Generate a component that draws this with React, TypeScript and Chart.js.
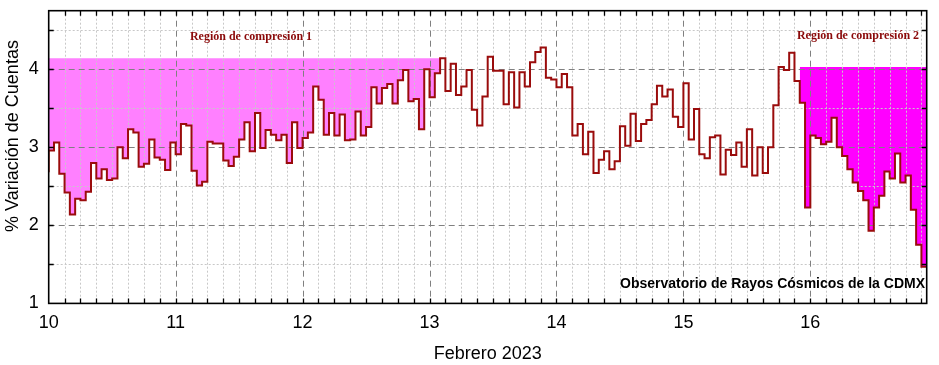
import React, { useEffect, useRef } from 'react';
import { Chart, registerables } from 'chart.js';

Chart.register(...registerables);

// ---- Data (hourly values, % variation of counts) ----
const START_DAY = 10;
const STEPS_PER_DAY = 24;

const day10Values = [2.68, 2.96, 3.06, 2.66, 2.42, 2.14, 2.34, 2.32, 2.43, 2.80, 2.60, 2.72, 2.58, 2.60, 3.00, 2.86, 3.23, 3.19, 2.75, 2.79, 3.10, 2.87, 2.84, 2.71];
const day11Values = [3.06, 2.91, 3.30, 3.28, 2.70, 2.51, 2.56, 3.07, 3.05, 3.05, 2.83, 2.76, 2.88, 3.10, 3.32, 2.95, 3.44, 2.99, 3.22, 3.16, 3.09, 3.16, 2.80, 3.32];
const day12Values = [2.99, 3.12, 3.19, 3.78, 3.61, 3.16, 3.44, 3.15, 3.42, 3.09, 3.10, 3.46, 3.15, 3.26, 3.77, 3.56, 3.76, 3.81, 3.56, 3.86, 3.99, 3.59, 3.62, 3.23];
const day13Values = [4.00, 3.64, 3.95, 4.14, 3.72, 4.07, 3.67, 3.78, 3.99, 3.48, 3.28, 3.65, 4.16, 3.98, 3.98, 3.55, 3.96, 3.51, 3.96, 3.78, 4.09, 4.22, 4.28, 3.89];
const day14Values = [3.87, 3.77, 3.94, 3.77, 3.15, 3.30, 2.91, 3.20, 2.67, 2.84, 2.95, 2.72, 2.82, 3.27, 3.02, 3.43, 3.08, 3.30, 3.35, 3.55, 3.79, 3.65, 3.74, 3.39];
const day15Values = [3.26, 3.82, 3.10, 3.49, 2.91, 2.86, 3.13, 3.15, 2.65, 2.97, 2.90, 3.06, 2.75, 3.23, 2.64, 3.00, 2.67, 3.00, 3.54, 4.03, 3.99, 4.21, 3.85, 3.57];
const day16Values = [2.23, 3.15, 3.12, 3.04, 3.07, 3.38, 3.00, 2.89, 2.72, 2.55, 2.44, 2.32, 1.93, 2.23, 2.38, 2.69, 2.60, 2.92, 2.55, 2.64, 2.20, 1.75, 1.47];

const allValues = [
  ...day10Values, ...day11Values, ...day12Values, ...day13Values,
  ...day14Values, ...day15Values, ...day16Values,
];

// Compression regions: [first hourly step, last hourly step], fill level
const region1Steps = [0, 75];
const region1Level = 4.14;
const region1Label = 'Región de compresión 1';
const region2Steps = [142, 166];
const region2Level = 4.03;
const region2Label = 'Región de compresión 2';

// Axes
const xTickValues = [10, 11, 12, 13, 14, 15, 16];
const yTickValues = [1, 2, 3, 4];
const X_MIN = 10;
const X_MAX = 10 + 166 / 24;
const Y_MIN = 1;
const Y_MAX = 4.75;
const xTitle = 'Febrero 2023';
const yTitle = '% Variación de Cuentas';
const creditText = 'Observatorio de Rayos Cósmicos de la CDMX';

const toPoints = (from: number, to: number) =>
  allValues.slice(from, to + 1).map((v, i) => ({ x: START_DAY + (from + i) / STEPS_PER_DAY, y: v }));

const SANS = '"Liberation Sans", Arial, sans-serif';

const gridPlugin = {
  id: 'customGrid',
  beforeDatasetsDraw(chart: any) {
    const { ctx, chartArea: a, scales } = chart;
    const xs = scales.x, ys = scales.y;
    ctx.save();
    ctx.lineWidth = 1;
    // minor dotted
    ctx.strokeStyle = '#c8c8c8';
    ctx.setLineDash([2, 2]);
    ctx.beginPath();
    for (let k = 1; k < 8 * 7; k++) {
      if (k % 8 === 0) continue;
      const v = X_MIN + k / 8;
      if (v >= X_MAX) break;
      const px = Math.round(xs.getPixelForValue(v)) + 0.5;
      ctx.moveTo(px, a.top); ctx.lineTo(px, a.bottom);
    }
    for (let v = 1.5; v < Y_MAX; v += 1) {
      const py = Math.round(ys.getPixelForValue(v)) + 0.5;
      ctx.moveTo(a.left, py); ctx.lineTo(a.right, py);
    }
    ctx.stroke();
    // major dashed
    ctx.strokeStyle = '#808080';
    ctx.setLineDash([6, 4]);
    ctx.beginPath();
    for (const v of xTickValues) {
      if (v === X_MIN) continue;
      const px = Math.round(xs.getPixelForValue(v)) + 0.5;
      ctx.moveTo(px, a.top); ctx.lineTo(px, a.bottom);
    }
    for (const v of yTickValues) {
      if (v === Y_MIN) continue;
      const py = Math.round(ys.getPixelForValue(v)) + 0.5;
      ctx.moveTo(a.left, py); ctx.lineTo(a.right, py);
    }
    ctx.stroke();
    ctx.restore();
  },
  afterDatasetsDraw(chart: any) {
    const { ctx, chartArea: a, scales } = chart;
    const xs = scales.x, ys = scales.y;
    ctx.save();
    ctx.setLineDash([]);
    ctx.strokeStyle = '#000';
    ctx.lineWidth = 1.3;
    ctx.beginPath();
    for (let k = 1; k < 8 * 7; k++) {
      const v = X_MIN + k / 8;
      if (v >= X_MAX) break;
      const px = Math.round(xs.getPixelForValue(v)) + 0.5;
      ctx.moveTo(px, a.bottom); ctx.lineTo(px, a.bottom - 5);
      ctx.moveTo(px, a.top); ctx.lineTo(px, a.top + 5);
    }
    for (let v = 1.5; v < Y_MAX; v += 0.5) {
      const py = Math.round(ys.getPixelForValue(v)) + 0.5;
      ctx.moveTo(a.left, py); ctx.lineTo(a.left + 5, py);
      ctx.moveTo(a.right, py); ctx.lineTo(a.right - 5, py);
    }
    ctx.stroke();
    // frame
    ctx.lineWidth = 1.6;
    ctx.strokeRect(a.left, a.top, a.right - a.left, a.bottom - a.top);

    // annotations
    ctx.fillStyle = '#8b0a0a';
    ctx.font = 'bold 12px "Liberation Serif", "Times New Roman", serif';
    ctx.textAlign = 'center';
    ctx.textBaseline = 'middle';
    ctx.fillText(region1Label, 251, 37);
    ctx.fillText(region2Label, 858, 36);

    ctx.fillStyle = '#000';
    ctx.font = 'bold 14px ' + SANS;
    ctx.textAlign = 'right';
    ctx.fillText(creditText, 925, 284);

    // y title
    ctx.font = '18px ' + SANS;
    ctx.textAlign = 'center';
    ctx.translate(13, 136);
    ctx.rotate(-Math.PI / 2);
    ctx.fillText(yTitle, 0, 0);
    ctx.restore();
  },
};

export default function App() {
  const canvasRef = useRef<HTMLCanvasElement | null>(null);

  useEffect(() => {
    document.body.style.margin = '0';
    const canvas = canvasRef.current;
    if (!canvas) return;
    const chart = new Chart(canvas, {
      type: 'line',
      data: {
        datasets: [
          {
            label: 'main',
            data: toPoints(0, allValues.length - 1),
            stepped: 'after',
            borderColor: '#9a0c0c',
            borderWidth: 2,
            pointRadius: 0,
            fill: false,
            order: 0,
          },
          {
            label: 'region1',
            data: toPoints(region1Steps[0], region1Steps[1]),
            stepped: 'after',
            borderColor: 'rgba(0,0,0,0)',
            borderWidth: 1,
            pointRadius: 0,
            backgroundColor: '#ff80ff',
            fill: { target: { value: region1Level }, above: '#ff80ff', below: '#ff80ff' },
            order: 1,
          },
          {
            label: 'region2',
            data: toPoints(region2Steps[0], region2Steps[1]),
            stepped: 'after',
            borderColor: 'rgba(0,0,0,0)',
            borderWidth: 1,
            pointRadius: 0,
            backgroundColor: '#ff00ff',
            fill: { target: { value: region2Level }, above: '#ff00ff', below: '#ff00ff' },
            order: 2,
          },
        ],
      } as any,
      options: {
        responsive: false,
        animation: false,
        events: [],
        layout: { padding: { top: 10.7, right: 12.3, left: 0, bottom: 0 } },
        plugins: {
          legend: { display: false },
          tooltip: { enabled: false },
          filler: { drawTime: 'beforeDraw' },
        },
        scales: {
          x: {
            type: 'linear',
            min: X_MIN,
            max: X_MAX,
            grid: { display: false, drawTicks: false },
            border: { display: false },
            afterBuildTicks: (s: any) => { s.ticks = xTickValues.map((v) => ({ value: v })); },
            afterFit: (s: any) => { s.height = 61.6; s.paddingLeft = 0; s.paddingRight = 0; },
            ticks: {
              font: { family: SANS, size: 18 },
              color: '#000',
              padding: 9,
              maxRotation: 0,
              autoSkip: false,
              callback: (v: any) => String(v),
            },
            title: {
              display: true,
              text: xTitle,
              font: { family: SANS, size: 18 },
              color: '#000',
              padding: { top: 0, bottom: 0 },
            },
          },
          y: {
            type: 'linear',
            min: Y_MIN,
            max: Y_MAX,
            grid: { display: false, drawTicks: false },
            border: { display: false },
            afterBuildTicks: (s: any) => { s.ticks = yTickValues.map((v) => ({ value: v })); },
            afterFit: (s: any) => { s.width = 48.7; s.paddingTop = 0; s.paddingBottom = 0; },
            ticks: {
              font: { family: SANS, size: 18 },
              color: '#000',
              padding: 10,
              callback: (v: any) => String(v),
            },
          },
        },
      } as any,
      plugins: [gridPlugin],
    });
    return () => chart.destroy();
  }, []);

  return (
    <div style={{ position: 'absolute', left: 0, top: 0, width: 939, height: 365, background: '#fff' }}>
      <canvas ref={canvasRef} width={939} height={365} style={{ width: 939, height: 365, display: 'block' }} />
    </div>
  );
}
